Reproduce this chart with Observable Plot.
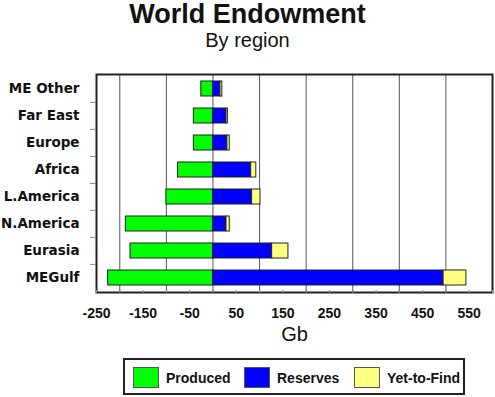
<!DOCTYPE html>
<html>
<head>
<meta charset="utf-8">
<script src="https://cdn.jsdelivr.net/npm/d3@7"></script>
<script src="https://cdn.jsdelivr.net/npm/@observablehq/plot@0.6"></script>
<style>
  body { margin: 0; background: #fff; }
  #wrap { position: relative; width: 495px; height: 397px; font-family: "Liberation Sans", Arial, sans-serif; overflow: hidden; }
  #title { position: absolute; top: 0px; left: 0; width: 495px; text-align: center; font-weight: bold; font-size: 27px; line-height: 1.1; color: #111; }
  #subtitle { position: absolute; top: 30px; left: 0; width: 495px; text-align: center; font-size: 20px; line-height: 1; color: #111; }
  #chart { position: absolute; top: 70px; left: 0; }
  #legend { position: absolute; left: 123px; top: 358px; width: 338px; height: 33px; border: 2px solid #222; background: #fff; }
  .item { position: absolute; top: 7px; display: flex; align-items: center; font-weight: bold; font-size: 14px; color: #111; }
  .sw { width: 24px; height: 19px; border: 1px solid #555; margin-right: 7px; }
</style>
</head>
<body>
<div id="wrap">
  <div id="title">World Endowment</div>
  <div id="subtitle">By region</div>
  <div id="chart"></div>
  <div id="legend"></div>
</div>
<script>
const regions = ["ME Other", "Far East", "Europe", "Africa", "L.America", "N.America", "Eurasia", "MEGulf"];
const produced = [25, 41, 41, 75, 100, 187, 177, 225];
const reserves = [16, 29, 31, 82, 84, 29, 127, 495];
const yetToFind = [4, 3, 5, 11, 18, 7, 35, 49];
const seriesNames = ["Produced", "Reserves", "Yet-to-Find"];
const seriesColors = ["#00ff00", "#0000ff", "#ffff80"];
const tickLabels = [-250, -150, -50, 50, 150, 250, 350, 450, 550];
const gridValues = [-200, -100, 0, 100, 200, 300, 400, 500];
const minorTicks = d3.range(-250, 601, 50);

const data = [];
regions.forEach((r, i) => {
  data.push({region: r, type: "Produced", value: -produced[i]});
  data.push({region: r, type: "Reserves", value: reserves[i]});
  data.push({region: r, type: "Yet-to-Find", value: yetToFind[i]});
});

const step = 218 / (regions.length - 0.45 + 2 * 0.23);

const chart = Plot.plot({
  width: 495,
  height: 280,
  marginLeft: 96,
  marginRight: 3,
  marginTop: 4,
  marginBottom: 58,
  style: {background: "transparent"},
  x: {domain: [-250, 600], label: null},
  y: {domain: regions, paddingInner: 0.45, paddingOuter: 0.23, label: null},
  color: {domain: seriesNames, range: seriesColors},
  marks: [
    Plot.ruleX(gridValues, {stroke: "#555", strokeWidth: 1}),
    Plot.barX(data, {y: "region", x: "value", fill: "type", stroke: "#222", strokeWidth: 1, order: seriesNames}),
    Plot.frame({stroke: "#222", strokeWidth: 2}),
    Plot.axisX({ticks: minorTicks, tickSize: 4, dy: -2, text: null, stroke: "#888", label: null}),
    Plot.axisX({ticks: tickLabels, tickSize: 0, tickPadding: 16, tickFormat: d => String(d), fontSize: 14, fontWeight: "bold", fontFamily: "Liberation Sans, Arial, sans-serif", fill: "#111", label: null}),
    Plot.axisY({ticks: regions.slice(1), tickSize: 6, dy: -step / 2, text: null, stroke: "#888", label: null}),
    Plot.axisY({tickSize: 0, tickPadding: 17, fontSize: 13.5, fontWeight: "bold", fontFamily: "DejaVu Sans, sans-serif", fill: "#111", label: null}),
    Plot.text(["Gb"], {frameAnchor: "bottom", dy: 48, fontSize: 20, fontFamily: "Liberation Sans, Arial, sans-serif", fill: "#111"})
  ]
});
document.getElementById("chart").appendChild(chart);

const legend = document.getElementById("legend");
const lefts = [8, 119, 229];
seriesNames.forEach((name, i) => {
  const item = document.createElement("div");
  item.className = "item";
  item.style.left = lefts[i] + "px";
  const sw = document.createElement("div");
  sw.className = "sw";
  sw.style.background = seriesColors[i];
  const label = document.createElement("span");
  label.textContent = name;
  item.appendChild(sw);
  item.appendChild(label);
  legend.appendChild(item);
});
</script>
</body>
</html>
